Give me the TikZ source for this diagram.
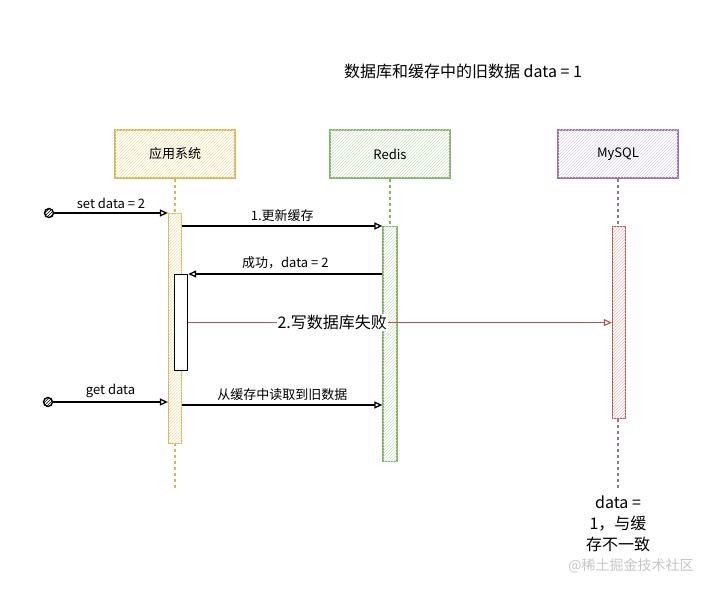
\documentclass[tikz,border=0pt]{standalone}
\usepackage{fontspec}
\setmainfont{Noto Sans CJK SC}
\usetikzlibrary{arrows.meta,patterns}

\definecolor{appline}{RGB}{214,182,86}
\definecolor{appfill}{RGB}{240,225,170}
\definecolor{redisline}{RGB}{130,179,102}
\definecolor{redisfill}{RGB}{205,225,200}
\definecolor{sqlline}{RGB}{150,115,166}
\definecolor{sqlfill}{RGB}{220,208,228}
\definecolor{failline}{RGB}{184,84,80}
\definecolor{failfill}{RGB}{235,190,188}

\tikzset{
  headbox/.style 2 args={draw=#1, line width=1.3pt, fill=white,
    postaction={pattern=north east lines, pattern color=#2},
    minimum width=120pt, minimum height=48pt, font=\fontsize{13}{15}\selectfont},
  actbox/.style 2 args={draw=#1, line width=1.2pt, fill=white,
    postaction={pattern=north east lines, pattern color=#2},
    minimum width=13pt, inner sep=0pt},
  lifeline/.style={draw=#1, dashed, line width=1.1pt},
  msg/.style={->, line width=1.3pt},
  lbl/.style={font=\fontsize{13}{15}\selectfont, inner sep=1pt},
  startdot/.style={circle, draw=black, line width=1.4pt, minimum size=9pt, inner sep=0pt,
    postaction={pattern=north east lines}},
}

\begin{document}
\begin{tikzpicture}[x=1pt, y=-1pt, >={Triangle[open, length=8pt, width=7pt]}]
\useasboundingbox[fill=white] (0,0) rectangle (716,591);

\node[font=\fontsize{16}{18}\selectfont] (title) at (463,71) {数据库和缓存中的旧数据 data = 1};

% participants
\node[headbox={appline}{appfill}] (app) at (175,154) {应用系统};
\node[headbox={redisline}{redisfill}] (redis) at (390,154) {Redis};
\node[headbox={sqlline}{sqlfill}] (mysql) at (618,154) {MySQL};

\draw[lifeline=appline] (app.south) -- (175,490);
\draw[lifeline=redisline] (redis.south) -- (390,461);
\draw[lifeline=sqlline!60!gray] (mysql.south) -- (618,490);

% activations
\node[actbox={appline}{appfill}, minimum height=230pt, anchor=north] (actA) at (175,213) {};
\node[actbox={redisline}{redisfill}, minimum height=235pt, anchor=north, minimum width=14pt] (actR) at (390,226) {};
\node[actbox={failline}{failfill}, minimum height=192pt, anchor=north] (actM) at (619,226) {};
\node[draw=black, fill=white, line width=1.2pt, minimum width=13pt, minimum height=96pt, inner sep=0pt, anchor=north west] (actW) at (174,274) {};

% messages
\node[startdot] (setS) at (49,213) {};
\draw[msg] (setS) -- (setS -| actA.west) node[lbl, midway, above=3pt] {set data = 2};

\draw[msg] (actA.east |- actR.north) -- (actR.north west) node[lbl, midway, above=3pt] {1.更新缓存};

\draw[msg] (actR.west |- actW.north) -- (actW.north east) node[lbl, midway, above=3pt] {成功，data = 2};

\draw[->, draw=failline, line width=1.1pt] (actW.east) -- (actW.east -| actM.west)
  node[pos=0.34, fill=white, inner sep=1pt, font=\fontsize{16}{18}\selectfont] {2.写数据库失败};

\node[startdot] (getS) at (48,402) {};
\draw[msg] (getS) -- (getS -| actA.west) node[lbl, midway, above=3pt] {get data};

\coordinate (readY) at (0,405);
\draw[msg] (actA.east |- readY) -- (actR.west |- readY) node[lbl, midway, above=3pt] {从缓存中读取到旧数据};

% note
\node[align=center, font=\fontsize{16}{21}\selectfont] (note) at (618,524) {data =\\1，与缓\\存不一致};
\node[text=gray!45, font=\fontsize{14}{16}\selectfont] (mark) at (631,566) {@稀土掘金技术社区};
\end{tikzpicture}
\end{document}
